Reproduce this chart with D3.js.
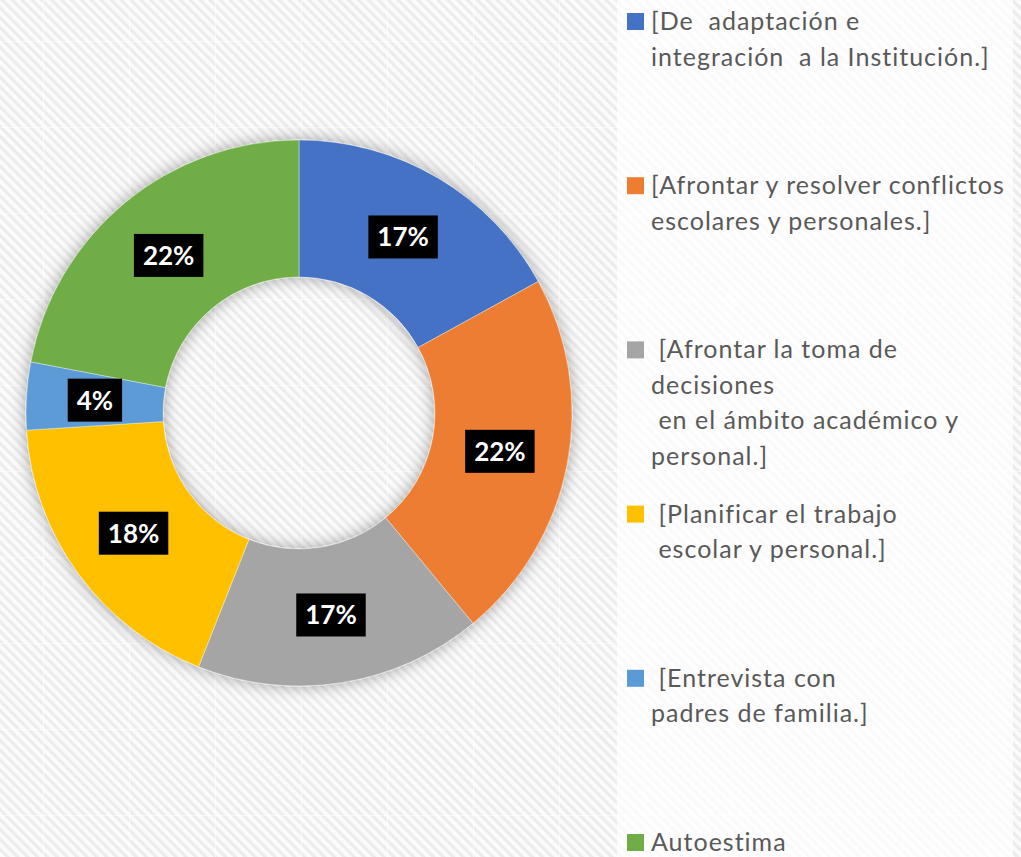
<!DOCTYPE html>
<html>
<head>
<meta charset="utf-8">
<script src="https://cdn.jsdelivr.net/npm/d3@7"></script>
<style>
  html, body { margin: 0; padding: 0; background: #fafafa; }
  svg { display: block; }
  text { font-family: Lato, "Open Sans", sans-serif; }
</style>
</head>
<body>
<div id="chart"></div>
<script>
// chart data
const categories = [
    ["[De  adaptación e", "integración  a la Institución.]"],
    ["[Afrontar y resolver conflictos", "escolares y personales.]"],
    [" [Afrontar la toma de", "decisiones", " en el ámbito académico y", "personal.]"],
    [" [Planificar el trabajo", " escolar y personal.]"],
    [" [Entrevista con", "padres de familia.]"],
    ["Autoestima"]
];
const values = [17, 22, 17, 18, 4, 22];
const labels = ["17%", "22%", "17%", "18%", "4%", "22%"];
const colors = ["#4472C4", "#ED7D31", "#A5A5A5", "#FFC000", "#5B9BD5", "#70AD47"];

const width = 1021;
const height = 857;
const cx = 299, cy = 413;
const outerR = 273, innerR = 136;

const svg = d3.select("#chart")
    .append("svg")
    .attr("width", width)
    .attr("height", height);

const defs = svg.append("defs");

// diagonal stripe texture
const stripes = defs.append("pattern")
    .attr("id", "stripes")
    .attr("patternUnits", "userSpaceOnUse")
    .attr("width", 7)
    .attr("height", 7)
    .attr("patternTransform", "rotate(-45)");
stripes.append("rect").attr("width", 7).attr("height", 7).attr("fill", "#fbfbfb");
stripes.append("rect").attr("width", 3.2).attr("height", 7).attr("fill", "#ececec");

// faint tile seams
const seams = defs.append("pattern")
    .attr("id", "seams")
    .attr("patternUnits", "userSpaceOnUse")
    .attr("x", 43).attr("y", 41)
    .attr("width", 86).attr("height", 86);
seams.append("path")
    .attr("d", "M0.5,0V86M0,0.5H86")
    .attr("stroke", "#ffffff")
    .attr("stroke-opacity", 0.6)
    .attr("fill", "none");

// soft shadow round the ring
const shadow = defs.append("filter")
    .attr("id", "glow")
    .attr("x", "-20%").attr("y", "-20%")
    .attr("width", "140%").attr("height", "140%");
shadow.append("feGaussianBlur")
    .attr("in", "SourceAlpha")
    .attr("stdDeviation", 8)
    .attr("result", "blur");
shadow.append("feFlood").attr("flood-color", "#000").attr("flood-opacity", 0.36);
shadow.append("feComposite").attr("in2", "blur").attr("operator", "in").attr("result", "sh");
const merge = shadow.append("feMerge");
merge.append("feMergeNode").attr("in", "sh");
merge.append("feMergeNode").attr("in", "SourceGraphic");

svg.append("rect").attr("width", width).attr("height", height).attr("fill", "url(#stripes)");
svg.append("rect").attr("width", width).attr("height", height).attr("fill", "url(#seams)");

// lighter legend panel
svg.append("rect")
    .attr("x", 617).attr("y", 0)
    .attr("width", 396).attr("height", height)
    .attr("fill", "#ffffff")
    .attr("opacity", 0.72);

// donut
const pie = d3.pie().sort(null).value(d => d);
const arcs = pie(values);
const arc = d3.arc().innerRadius(innerR).outerRadius(outerR);
const labelArc = d3.arc().innerRadius((innerR + outerR) / 2).outerRadius((innerR + outerR) / 2);

const g = svg.append("g").attr("transform", `translate(${cx},${cy})`);

g.append("g")
    .attr("filter", "url(#glow)")
    .selectAll("path")
    .data(arcs)
    .enter()
    .append("path")
    .attr("d", arc)
    .attr("fill", (d, i) => colors[i])
    .attr("stroke", "#ffffff")
    .attr("stroke-opacity", 0.5)
    .attr("stroke-width", 0.75);

// data labels: white bold text on black box
const lab = g.selectAll("g.lab")
    .data(arcs)
    .enter()
    .append("g")
    .attr("class", "lab")
    .attr("transform", d => `translate(${labelArc.centroid(d)})`);

lab.append("text")
    .attr("text-anchor", "middle")
    .attr("dy", "0.36em")
    .style("font-size", "26px")
    .style("font-weight", "bold")
    .attr("fill", "#ffffff")
    .text((d, i) => labels[i]);

lab.each(function() {
    const t = d3.select(this).select("text");
    const w = t.node().getComputedTextLength();
    d3.select(this).insert("rect", "text")
        .attr("x", -w / 2 - 9)
        .attr("y", -21.5)
        .attr("width", w + 18)
        .attr("height", 43)
        .attr("fill", "#000000");
});

// legend
const legendY = d3.scaleLinear().domain([0, 5]).range([30, 851]);
const lineH = 35.5;

const legend = svg.selectAll("g.legend")
    .data(categories)
    .enter()
    .append("g")
    .attr("class", "legend")
    .attr("transform", (d, i) => `translate(627,${legendY(i)})`);

legend.append("rect")
    .attr("x", 0)
    .attr("y", -17)
    .attr("width", 17)
    .attr("height", 17)
    .attr("fill", (d, i) => colors[i]);

legend.append("text")
    .attr("fill", "#595959")
    .style("font-size", "25px")
    .style("letter-spacing", "1px")
    .style("white-space", "pre")
    .selectAll("tspan")
    .data(d => d)
    .enter()
    .append("tspan")
    .attr("x", 24)
    .attr("y", (d, i) => i * lineH)
    .text(d => d);
</script>
</body>
</html>
